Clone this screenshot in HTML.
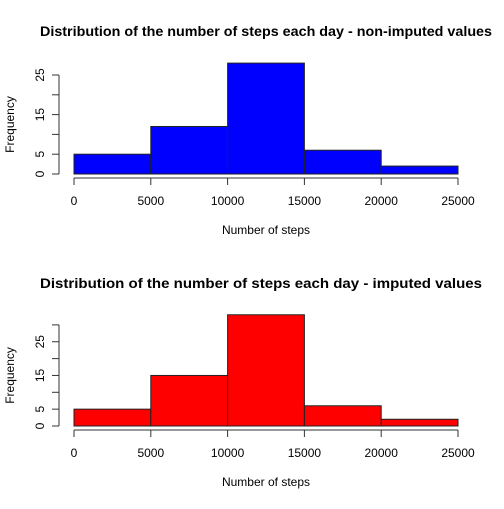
<!DOCTYPE html>
<html><head><meta charset="utf-8"><style>
body{margin:0;background:#fff}
text{font-family:"Liberation Sans",Arial,sans-serif}
</style></head><body>
<svg id="s" width="504" height="504" xmlns="http://www.w3.org/2000/svg"></svg>
<script>
const breaks=[0,5000,10000,15000,20000,25000];
const xTicks=[0,5000,10000,15000,20000,25000];
const countsNonImputed=[5,12,28,6,2];
const countsImputed=[5,15,33,6,2];
const yTicksTop=[0,5,10,15,20,25];
const yTicksBottom=[0,5,10,15,20,25,30];
const yLabelsShown=[0,5,15,25];
const NS="http://www.w3.org/2000/svg";
const svg=document.getElementById('s');
function el(t,a,p){const e=document.createElementNS(NS,t);for(const k in a)e.setAttribute(k,a[k]);(p||svg).appendChild(e);return e;}
function panel(name,title,counts,yTicks,y0,pxPerUnit,color,titleY,tx,tw){
  const g=el('g',{});
  
  
  const x=v=>74+(v/25000)*384;
  const y=v=>y0-v*pxPerUnit;
  const t=el('text',{x:tx,y:titleY,'font-size':'14','font-weight':'bold',textLength:tw,lengthAdjust:'spacingAndGlyphs'},g);
  t.textContent=title;
  
  
  counts.forEach((c,i)=>{
    const r=el('rect',{x:x(breaks[i]),y:y(c),width:x(breaks[i+1])-x(breaks[i]),height:y(0)-y(c),fill:color,stroke:'#222','stroke-width':1},g);
    
    
  });
  const ya=el('g',{},g);
  
  
  const yMax=yTicks[yTicks.length-1];
  el('line',{x1:59,x2:59,y1:y(0),y2:y(yMax),stroke:'#333'},ya);
  yTicks.forEach(v=>{
    el('line',{x1:52,x2:59,y1:y(v),y2:y(v),stroke:'#333'},ya);
    if(yLabelsShown.includes(v)){
      const tt=el('text',{x:0,y:0,'font-size':'12','text-anchor':'middle',transform:`translate(44,${y(v)}) rotate(-90)`},ya);
      tt.textContent=v;
    }
  });
  const yl=el('text',{x:0,y:0,'font-size':'12','text-anchor':'middle',transform:`translate(14,${(y(0)+y(yMax))/2}) rotate(-90)`},g);
  yl.textContent='Frequency';
  
  
  const xa=el('g',{},g);
  
  
  const ax=y0+4;
  el('line',{x1:x(0),x2:x(25000),y1:ax,y2:ax,stroke:'#333'},xa);
  xTicks.forEach(v=>{
    el('line',{x1:x(v),x2:x(v),y1:ax,y2:ax+7,stroke:'#333'},xa);
    const tt=el('text',{x:x(v),y:ax+27,'font-size':'12','text-anchor':'middle'},xa);
    tt.textContent=v;
  });
  const xl=el('text',{x:266,y:ax+56,'font-size':'12','text-anchor':'middle'},g);
  xl.textContent='Number of steps';
  
  
}
panel('histogram-non-imputed','Distribution of the number of steps each day - non-imputed values',countsNonImputed,yTicksTop,174,3.96,'#0000ff',36,40,452);
panel('histogram-imputed','Distribution of the number of steps each day - imputed values',countsImputed,yTicksBottom,426,3.37,'#ff0000',288,40,442);
</script>
</body></html>
